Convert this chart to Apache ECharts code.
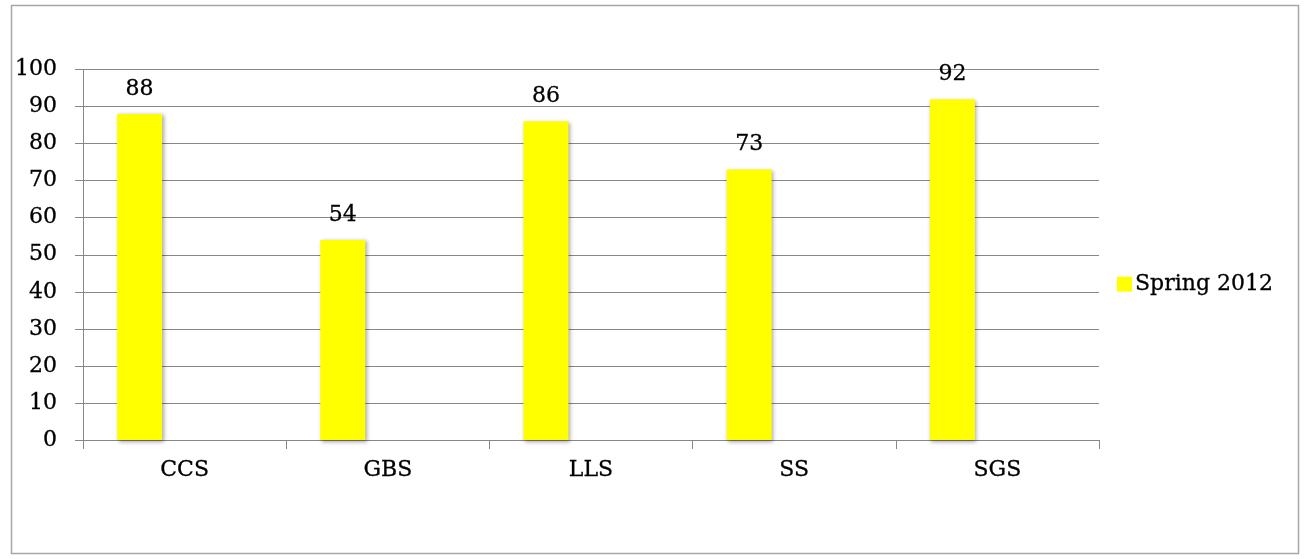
<!DOCTYPE html>
<html>
<head>
<meta charset="utf-8">
<script src="https://cdn.jsdelivr.net/npm/echarts@6/dist/echarts.min.js"></script>
<style>
html,body{margin:0;padding:0;background:#fff;}
#c{width:1304px;height:559px;}
</style>
</head>
<body>
<div id="c"></div>
<script>
var categories = ['CCS', 'GBS', 'LLS', 'SS', 'SGS'];
var spring2012 = [88, 54, 86, 73, 92];
var seriesName = 'Spring 2012';
var yTicks = { min: 0, max: 100, interval: 10 };

var FONT = 'DejaVu Serif';
var FS = 22;
var txt = { fontFamily: FONT, fontSize: FS, color: '#000', textBorderColor: '#000', textBorderWidth: 0.3 };
var chart = echarts.init(document.getElementById('c'), null, { renderer: 'canvas' });
chart.setOption({
  animation: false,
  backgroundColor: '#fff',
  textStyle: { fontFamily: FONT, color: '#000' },
  graphic: [{
    type: 'rect',
    shape: { x: 11.5, y: 5.5, width: 1287, height: 548 },
    style: { fill: 'none', stroke: '#a6a6a6', lineWidth: 1.5 },
    silent: true
  }],
  grid: { left: 83, right: 205, top: 69.5, bottom: 119, containLabel: false },
  legend: {
    data: [seriesName],
    left: 1112, top: 268,
    itemWidth: 15, itemHeight: 15, itemGap: 6,
    icon: 'rect',
    textStyle: Object.assign({}, txt, { padding: [0, 0, 0, -2] })
  },
  xAxis: {
    type: 'category',
    data: categories,
    boundaryGap: true,
    axisLine: { show: true, lineStyle: { color: '#878787', width: 1 } },
    axisTick: { show: true, length: 9, interval: 0, lineStyle: { color: '#878787' } },
    axisLabel: Object.assign({}, txt, { margin: 19 }),
    splitLine: { show: false }
  },
  yAxis: {
    type: 'value',
    min: yTicks.min, max: yTicks.max, interval: yTicks.interval,
    axisLine: { show: true, lineStyle: { color: '#878787', width: 1 } },
    axisTick: { show: true, length: 8, lineStyle: { color: '#878787' } },
    axisLabel: Object.assign({}, txt, { margin: 26 }),
    splitLine: { show: true, lineStyle: { color: '#878787', width: 1 } }
  },
  series: [{
    name: seriesName,
    type: 'bar',
    data: spring2012,
    barWidth: 45,
    barGap: '100%',
    itemStyle: {
      color: '#ffff00',
      shadowColor: 'rgba(0,0,0,0.35)', shadowBlur: 4, shadowOffsetX: 1.5, shadowOffsetY: 1.5
    },
    label: Object.assign({ show: true, position: 'top', distance: 14 }, txt)
  }, {
    name: 'blank',
    type: 'bar',
    data: categories.map(function () { return '-'; }),
    barWidth: 45,
    barGap: '100%'
  }]
});
</script>
</body>
</html>
